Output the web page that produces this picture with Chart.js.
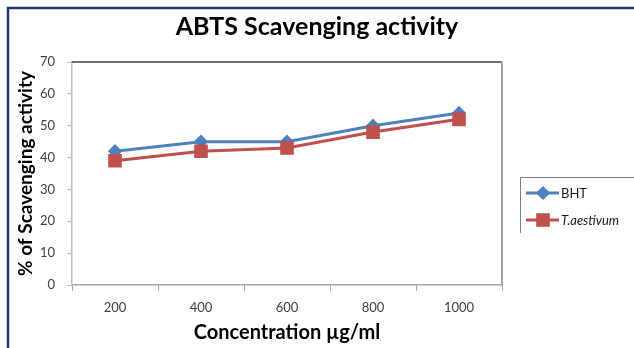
<!DOCTYPE html>
<html>
<head>
<meta charset="utf-8">
<script src="https://cdn.jsdelivr.net/npm/chart.js@4.4.0/dist/chart.umd.min.js"></script>
<style>
  html, body { margin: 0; padding: 0; background: #fff; }
  #wrap { position: relative; width: 634px; height: 348px; }
</style>
</head>
<body>
<div id="wrap"><canvas id="chart" width="634" height="348"></canvas></div>
<script>
// data
const concentrations = ['200', '400', '600', '800', '1000'];
const bhtValues = [42, 45, 45, 50, 54];
const aestivumValues = [39, 42, 43, 48, 52];
const yTicks = [0, 10, 20, 30, 40, 50, 60, 70];

const chartTitle = 'ABTS Scavenging activity';
const xTitle = 'Concentration µg/ml';
const yTitle = '% of Scavenging activity';

const FONT = 'Lato, "Open Sans", sans-serif';

// frame, title, plot border and legend drawn by hand
const decorPlugin = {
    id: 'decor',
    beforeDraw(chart) {
        const ctx = chart.ctx;
        ctx.save();
        ctx.strokeStyle = '#1f3a6e';
        ctx.lineWidth = 2.5;
        ctx.beginPath();
        ctx.moveTo(8, 348);
        ctx.lineTo(8, 8);
        ctx.lineTo(634, 8);
        ctx.stroke();
        ctx.restore();
    },
    afterDatasetsDraw(chart) {
        const ctx = chart.ctx;
        const a = chart.chartArea;
        ctx.save();
        // top line
        ctx.strokeStyle = '#404040';
        ctx.lineWidth = 1.5;
        ctx.beginPath();
        ctx.moveTo(a.left, a.top);
        ctx.lineTo(a.right, a.top);
        ctx.stroke();
        // right line
        ctx.strokeStyle = '#a6a6a6';
        ctx.lineWidth = 2;
        ctx.beginPath();
        ctx.moveTo(a.right, a.top);
        ctx.lineTo(a.right, a.bottom + 1);
        ctx.stroke();

        // title
        ctx.fillStyle = '#000';
        ctx.font = 'bold 25px ' + FONT;
        ctx.textAlign = 'center';
        ctx.textBaseline = 'middle';
        ctx.fillText(chartTitle, 317, 27);

        // legend
        ctx.strokeStyle = '#7f7f7f';
        ctx.lineWidth = 1;
        ctx.beginPath();
        ctx.moveTo(640, 177.5);
        ctx.lineTo(520.5, 177.5);
        ctx.lineTo(520.5, 233);
        ctx.stroke();

        const rows = [193, 220];
        chart.data.datasets.forEach((ds, i) => {
            const y = rows[i];
            ctx.strokeStyle = ds.borderColor;
            ctx.lineWidth = 3;
            ctx.beginPath();
            ctx.moveTo(526, y);
            ctx.lineTo(559, y);
            ctx.stroke();
            Chart.helpers.drawPoint(ctx, {
                pointStyle: ds.pointStyle,
                radius: ds.pointRadius,
                borderWidth: 1
            }, 543, y);
            ctx.fillStyle = ds.pointBackgroundColor;
            ctx.fill();
            ctx.fillStyle = '#1a1a1a';
            ctx.font = (i === 1 ? 'italic ' : '') + '13px ' + FONT;
            ctx.textAlign = 'left';
            ctx.fillText(ds.label, 561, y + 1);
        });
        ctx.restore();
    }
};

new Chart(document.getElementById('chart'), {
    type: 'line',
    data: {
        labels: concentrations,
        datasets: [
            {
                label: 'BHT',
                data: bhtValues,
                borderColor: '#4f81bd',
                backgroundColor: '#4f81bd',
                pointBackgroundColor: '#4f81bd',
                pointBorderColor: '#4f81bd',
                pointStyle: 'rectRot',
                pointRadius: 5,
                borderWidth: 3,
                tension: 0,
                order: 1
            },
            {
                label: 'T.aestivum',
                data: aestivumValues,
                borderColor: '#c0504d',
                backgroundColor: '#c0504d',
                pointBackgroundColor: '#c0504d',
                pointBorderColor: '#c0504d',
                pointStyle: 'rect',
                pointRadius: 7.5,
                borderWidth: 3,
                tension: 0,
                order: 0
            }
        ]
    },
    options: {
        responsive: false,
        animation: false,
        devicePixelRatio: 1,
        layout: { padding: { left: 0, right: 132, top: 62, bottom: 0 } },
        plugins: {
            legend: { display: false },
            title: { display: false },
            tooltip: { enabled: false }
        },
        scales: {
            x: {
                offset: true,
                grid: {
                    offset: true,
                    drawOnChartArea: false,
                    tickLength: 6,
                    color: '#a6a6a6'
                },
                border: { display: true, color: '#a6a6a6', width: 1.5 },
                ticks: {
                    color: '#404040',
                    font: { family: FONT, size: 13 },
                    padding: 9,
                    maxRotation: 0
                },
                title: {
                    display: true,
                    text: xTitle,
                    color: '#000',
                    font: { family: FONT, size: 20, weight: 'bold' },
                    padding: { top: 4, bottom: 3 }
                },
                afterFit(scale) { scale.height = 63; }
            },
            y: {
                min: 0,
                max: 70,
                afterBuildTicks(scale) {
                    scale.ticks = yTicks.map(v => ({ value: v }));
                },
                grid: {
                    drawOnChartArea: false,
                    tickLength: 5,
                    color: '#bfbfbf'
                },
                border: { display: true, color: '#bfbfbf', width: 1.5 },
                ticks: {
                    color: '#404040',
                    font: { family: FONT, size: 13 },
                    padding: 12
                },
                title: {
                    display: true,
                    text: yTitle,
                    color: '#000',
                    font: { family: FONT, size: 19, weight: 'bold' },
                    padding: { top: 14, bottom: 0 }
                },
                afterFit(scale) { scale.width = 72; }
            }
        }
    },
    plugins: [decorPlugin]
});
</script>
</body>
</html>
